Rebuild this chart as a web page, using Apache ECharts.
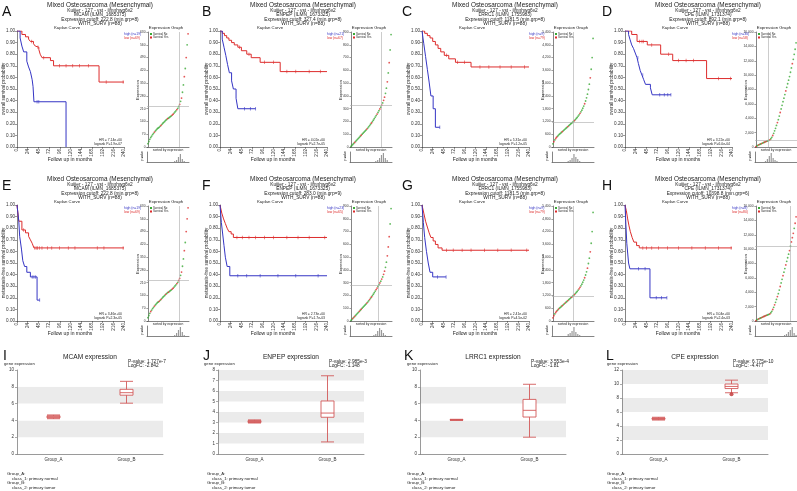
<!DOCTYPE html>
<html><head><meta charset="utf-8">
<script src="https://cdn.jsdelivr.net/npm/echarts@6/dist/echarts.min.js"></script>
<style>html,body{margin:0;padding:0;background:#fff}#c{width:797px;height:491px}</style>
</head><body><div id="c"></div>
<script>
// ---------- DATA ----------
const panelLetters = ['A','B','C','D','E','F','G','H'];
const genes = ['MCAM','ENPEP','LRRC1','CPE'];
const probes = ['ILMN_1685375','ILMN_1673325','ILMN_1755983','ILMN_1731374'];
const cutoffs = [222.8, 327.4, 1181.5, 892.1, 222.8, 283.0, 1181.5, 10398.8];
const minGrp = [8, 8, 8, 8, 8, 9, 8, 6];
const nHigh = [19, 21, 9, 30, 19, 23, 9, 8];
const nLow = [69, 67, 79, 58, 69, 65, 79, 80];
const hrTexts = ['HR = 7.14e+00','HR = 4.02e+00','HR = 5.31e+00','HR = 3.22e+00','HR = 3.46e+00','HR = 2.73e+00','HR = 2.41e+00','HR = 3.04e+00'];
const pTexts = ['logrank P=1.9e-07','logrank P=2.7e-05','logrank P=1.2e-05','logrank P=6.0e-04','logrank P=2.3e-05','logrank P=1.7e-03','logrank P=4.5e-02','logrank P=2.4e-03'];
const monthTicks = [0, 240, 24];
const survTicks = [0, 1, 0.1];

const kmHighA = [[0,1],[7,0.94],[11,0.87],[15,0.82],[22,0.74],[26,0.69],[30,0.65],[34,0.58],[36,0.52],[38,0.39],[110,0]];
const kmLowA  = [[0,1],[11,0.97],[19,0.95],[26,0.93],[30,0.91],[37,0.89],[41,0.87],[45,0.86],[49,0.84],[52,0.80],[56,0.77],[75,0.745],[82,0.70],[184,0.56],[240,0.56]];
const cenHighA = [[45,0.39],[49,0.39]];
const cenLowA  = [[33,0.91],[47,0.86],[60,0.77],[95,0.70],[110,0.70],[125,0.70],[140,0.70],[160,0.70],[200,0.56],[238,0.56]];

const kmHighB = [[0,1],[5,0.93],[9,0.86],[13,0.79],[17,0.71],[21,0.64],[26,0.57],[30,0.5],[36,0.42],[40,0.33],[80,0.33]];
const kmLowB  = [[0,1],[5,0.98],[10,0.96],[15,0.94],[20,0.92],[26,0.90],[32,0.88],[40,0.86],[48,0.83],[60,0.80],[70,0.77],[90,0.73],[135,0.65],[240,0.65]];
const cenHighB = [[55,0.33],[68,0.33],[80,0.33]];
const cenLowB  = [[44,0.86],[65,0.80],[100,0.73],[120,0.73],[150,0.65],[170,0.65],[200,0.65],[225,0.65]];

const kmHighC = [[0,1],[4,0.89],[8,0.78],[12,0.67],[16,0.56],[20,0.44],[25,0.33],[30,0.17],[40,0.17]];
const kmLowC  = [[0,1],[6,0.98],[12,0.96],[18,0.94],[24,0.91],[30,0.88],[36,0.85],[42,0.82],[50,0.79],[60,0.76],[75,0.73],[110,0.69],[240,0.69]];
const cenHighC = [[40,0.17]];
const cenLowC  = [[55,0.79],[80,0.73],[95,0.73],[130,0.69],[150,0.69],[175,0.69],[200,0.69],[230,0.69]];

const kmHighD = [[0,1],[8,0.97],[11,0.93],[15,0.88],[19,0.85],[23,0.81],[27,0.77],[30,0.72],[34,0.66],[38,0.62],[42,0.58],[46,0.54],[57,0.51],[61,0.45],[103,0.45]];
const kmLowD  = [[0,1],[15,0.97],[27,0.91],[50,0.88],[80,0.80],[107,0.745],[183,0.59],[240,0.59]];
const cenHighD = [[29,0.77],[40,0.62],[78,0.45],[88,0.45],[96,0.45],[103,0.45]];
const cenLowD  = [[33,0.91],[38,0.91],[41,0.91],[60,0.88],[98,0.80],[120,0.745],[137,0.745],[154,0.745],[210,0.59],[237,0.59]];

const kmHighE = [[0,1],[4,0.86],[6,0.73],[10,0.62],[13,0.52],[17,0.47],[22,0.42],[30,0.38],[45,0.18],[51,0.18]];
const kmLowE  = [[0,1],[4,0.86],[11,0.785],[19,0.76],[26,0.73],[30,0.70],[34,0.67],[38,0.63],[240,0.63]];
const cenHighE = [[34,0.38],[38,0.38],[42,0.38],[51,0.18]];
const cenLowE  = [[15,0.785],[40,0.63],[43,0.63],[46,0.63],[50,0.63],[56,0.63],[68,0.63],[78,0.63],[95,0.63],[115,0.63],[130,0.63],[180,0.63],[195,0.63],[238,0.63]];

const kmHighF = [[0,1],[3,0.85],[6,0.75],[9,0.65],[12,0.55],[16,0.47],[22,0.39],[240,0.39]];
const kmLowF  = [[0,1],[4,0.93],[8,0.88],[12,0.84],[16,0.80],[20,0.77],[25,0.75],[30,0.72],[240,0.72]];
const cenHighF = [[40,0.39],[60,0.39],[90,0.39],[130,0.39],[170,0.39],[220,0.39]];
const cenLowF  = [[38,0.72],[50,0.72],[65,0.72],[80,0.72],[100,0.72],[120,0.72],[150,0.72],[175,0.72],[200,0.72],[235,0.72]];

const kmHighG = [[0,1],[3,0.85],[6,0.72],[10,0.60],[14,0.50],[18,0.42],[24,0.38],[54,0.38]];
const kmLowG  = [[0,1],[4,0.93],[8,0.86],[12,0.81],[16,0.76],[20,0.72],[25,0.69],[30,0.66],[36,0.63],[45,0.61],[240,0.61]];
const cenHighG = [[35,0.38],[54,0.38]];
const cenLowG  = [[55,0.61],[70,0.61],[90,0.61],[110,0.61],[140,0.61],[170,0.61],[200,0.61],[235,0.61]];

const kmHighH = [[0,1],[2,0.83],[4,0.67],[8,0.5],[11,0.45],[56,0.2],[94,0.2]];
const kmLowH  = [[0,1],[3,0.95],[6,0.88],[9,0.82],[12,0.77],[16,0.72],[20,0.68],[26,0.65],[32,0.63],[240,0.63]];
const cenHighH = [[30,0.45],[45,0.45],[70,0.2],[82,0.2],[94,0.2]];
const cenLowH  = [[40,0.63],[48,0.63],[60,0.63],[75,0.63],[95,0.63],[120,0.63],[150,0.63],[180,0.63],[210,0.63],[238,0.63]];

// sorted expression values (patients ordered by expression)
const exprMCAM  = [18,30,42,52,60,68,75,82,88,94,100,104,108,113,118,124,130,135,140,146,150,155,158,162,166,170,175,180,186,192,198,205,212,222,234,250,268,300,340,385,430,490,560,620];
const exprENPEP = [5,12,20,28,36,44,52,60,68,76,84,92,100,108,116,124,132,140,148,158,168,178,188,198,210,222,234,246,258,270,284,298,312,328,345,365,390,420,460,510,580,660,760,880];
const exprLRRC1 = [150,250,330,400,460,510,560,600,640,680,720,760,800,840,880,920,960,1000,1040,1080,1120,1160,1200,1240,1290,1340,1390,1450,1510,1580,1650,1730,1820,1920,2030,2160,2310,2480,2700,2950,3250,3650,4200,5100];
const exprCPE   = [60,150,230,300,360,420,480,540,600,660,720,780,830,880,930,1000,1150,1350,1600,1900,2250,2600,3000,3400,3800,4300,4800,5300,5800,6300,6800,7300,7800,8300,8800,9300,9800,10400,11000,11600,12200,12900,13600,14500];
const exprAxisMax = [630, 900, 5400, 16000];
const exprAxisStep = [70, 100, 600, 2000];

const evA = [0,0,0,0,0,0,0,1,0,0,0,0,0,0,1,0,0,0,0,0,0,1,0,0,0,0,1,1,0,0,0,1,0,0,1,0,1,0,0,1,0,1,0,1];
const evB = [0,0,0,0,1,0,0,0,0,0,0,1,0,0,0,0,0,1,0,0,0,0,1,0,0,0,0,0,1,0,0,1,0,1,0,1,1,0,0,1,0,1,0,0];
const evC = [0,1,0,1,1,0,0,0,0,0,1,0,0,0,0,0,1,0,0,0,0,0,0,1,0,0,0,0,0,1,0,0,0,0,1,0,0,0,0,0,1,0,0,0];
const evD = [1,0,0,1,0,0,1,0,0,1,0,1,0,0,0,1,0,0,1,0,0,0,0,1,0,0,1,0,0,0,0,0,1,0,0,0,0,0,0,1,0,0,0,0];
const evE = [0,0,0,1,0,0,0,1,0,0,0,0,1,0,1,0,0,0,0,1,0,0,1,0,0,0,1,1,0,0,0,1,0,1,1,0,1,0,0,1,0,1,1,1];
const evF = [0,0,1,0,1,0,0,0,0,1,0,1,0,0,0,0,0,1,0,0,1,0,1,0,0,0,0,1,1,0,0,1,0,1,0,1,1,0,0,1,1,1,0,0];
const evG = [1,1,0,1,1,0,1,0,0,0,1,0,0,1,0,0,1,0,0,0,1,0,0,1,0,0,0,0,1,1,0,0,0,0,1,0,0,1,0,0,1,0,0,0];
const evH = [1,0,0,1,0,0,1,0,1,1,0,1,0,0,0,1,0,0,1,0,1,0,0,1,0,0,1,0,0,1,0,0,1,0,0,0,1,0,1,1,1,0,1,1];

const histA = [0,0,0,0,0,0,0,0,0,0,0,0,0,0,1,2,5,8,3,1,0,0];
const histB = [0,0,0,0,0,0,0,0,0,0,0,0,0,1,2,4,7,9,4,2,0,0];
const histC = [0,0,0,0,0,0,0,0,1,2,4,8,5,3,1,0,0,0,0,0,0,0];
const histD = [0,0,0,0,0,1,3,6,9,4,2,1,0,0,0,0,0,0,0,0,0,0];
const histE = [0,0,0,0,0,0,0,0,0,0,0,0,0,0,1,3,6,9,4,1,0,0];
const histF = [0,0,0,0,0,0,0,0,0,0,0,0,1,2,5,8,6,3,1,0,0,0];
const histG = [0,0,0,0,0,0,0,0,2,3,5,9,4,2,1,0,0,0,0,0,0,0];
const histH = [0,0,0,0,0,0,0,0,0,0,0,0,0,0,0,1,2,4,6,9,3,1];

// boxplots (min, Q1, median, Q3, max)
const boxGroups = ['Group_A','Group_B'];
const boxA_I = [4.2,4.3,4.42,4.55,4.65];  const boxB_I = [6.05,7.0,7.3,7.7,8.65];
const boxA_J = [2.95,3.0,3.1,3.18,3.25]; const boxB_J = [1.15,3.5,3.9,5.05,7.45];
const boxA_K = [4.0,4.03,4.07,4.1,4.13];  const boxB_K = [2.0,4.4,5.2,6.5,8.3];
const boxA_L = [4.85,4.95,5.05,5.15,5.25]; const boxB_L = [8.75,9.35,9.65,10.0,10.55];
const outlierL = [[1, 8.55]];
const boxYMax = [10, 8, 10, 12];
const boxYStep = [2, 1, 2, 2];
const pValues = ['P-value: 1.727e-7','P-value: 2.985e-3','P-value: 3.553e-4','P-value: 6.775e-10'];
const logFCs = ['LogFC: -2.842','LogFC: -1.148','LogFC: -1.81','LogFC: -4.477'];

// ---------- BUILD ----------
const kmHigh = [kmHighA,kmHighB,kmHighC,kmHighD,kmHighE,kmHighF,kmHighG,kmHighH];
const kmLow = [kmLowA,kmLowB,kmLowC,kmLowD,kmLowE,kmLowF,kmLowG,kmLowH];
const cenHigh = [cenHighA,cenHighB,cenHighC,cenHighD,cenHighE,cenHighF,cenHighG,cenHighH];
const cenLow = [cenLowA,cenLowB,cenLowC,cenLowD,cenLowE,cenLowF,cenLowG,cenLowH];
const exprs = [exprMCAM, exprENPEP, exprLRRC1, exprCPE];
const events = [evA,evB,evC,evD,evE,evF,evG,evH];
const hists = [histA,histB,histC,histD,histE,histF,histG,histH];
const boxAs = [boxA_I, boxA_J, boxA_K, boxA_L];
const boxBs = [boxB_I, boxB_J, boxB_K, boxB_L];

const FONT = '"Liberation Sans", Arial, Helvetica, sans-serif';
const RED = '#dd2c2c', BLUE = '#3535c4', GREEN = '#39a935', BOXRED = '#d25a5a';
const colOX = [0, 203, 405, 608];
const letterX = [2, 202, 402, 602];
const boxLeft = [17, 218, 420, 622];
const boxOX = [0, 200, 400, 600];

const grids = [], xAxes = [], yAxes = [], series = [], graphics = [];
function T(x, y, text, size, o) {
  o = o || {};
  graphics.push({type:'text', x:x, y:y, rotation:o.rot || 0, silent:true, z:100,
    style:{text:text, fill:o.color || '#222', font:(o.bold ? 'bold ' : '') + size + 'px ' + FONT,
      textAlign:o.align || 'left', textVerticalAlign:o.va || 'middle'}});
}
const axLine = {lineStyle:{color:'#333', width:0.6}};
const axTick = {length:2, lineStyle:{color:'#333', width:0.5}};

for (let p = 0; p < 8; p++) {
  const c = p % 4, r = Math.floor(p / 4), ox = colOX[c], oy = r * 174;
  T(letterX[c], oy + 12, panelLetters[p], 14, {color:'#111'});
  T(ox + 100, oy + 5, 'Mixed Osteosarcoma (Mesenchymal)', 6.4, {align:'center'});
  T(ox + 100, oy + 10.5, 'Kuijjer - 127 - vst - ilmnhwg6v2', 4.8, {align:'center'});
  T(ox + 100, oy + 15, genes[c] + ' (' + probes[c] + ')', 4.8, {align:'center'});
  T(ox + 100, oy + 19.5, 'Expression cutoff: ' + cutoffs[p].toFixed(1) + ' (min.grp=' + minGrp[p] + ')', 4.8, {align:'center'});
  T(ox + 100, oy + 24, 'WITH_SURV (n=88)', 4.8, {align:'center'});
  T(ox + 67, oy + 27.5, 'Kaplan Curve', 4.3, {align:'center'});
  T(ox + 166, oy + 28, 'Expression Graph', 4.3, {align:'center'});
  T(ox + 3.5, oy + 89, r === 0 ? 'overall survival probability' : 'metastasis-free survival probability', 4.6, {align:'center', rot:Math.PI / 2});
  T(ox + 70, oy + 160, 'Follow up in months', 5, {align:'center'});
  T(ox + 124, oy + 34, 'high (n=' + nHigh[p] + ')', 3.4, {color:BLUE});
  T(ox + 124, oy + 38, 'low (n=' + nLow[p] + ')', 3.4, {color:RED});
  T(ox + 122, oy + 140, hrTexts[p], 3.4, {align:'right'});
  T(ox + 122, oy + 144, pTexts[p], 3.4, {align:'right'});
  T(ox + 138, oy + 90, 'Expression', 4, {align:'center', rot:Math.PI / 2});
  T(ox + 168, oy + 150.5, 'sorted by expression', 3.3, {align:'center'});
  T(ox + 142, oy + 156, 'p-value', 3, {align:'center', rot:Math.PI / 2});
  graphics.push({type:'rect', shape:{x:ox + 150, y:oy + 33, width:2, height:2}, style:{fill:GREEN}, silent:true});
  graphics.push({type:'rect', shape:{x:ox + 150, y:oy + 36.5, width:2, height:2}, style:{fill:RED}, silent:true});
  T(ox + 153, oy + 34, 'Survival No', 2.8);
  T(ox + 153, oy + 37.5, 'Survival Yes', 2.8);

  const g = grids.length;
  grids.push({left:ox + 17, top:oy + 31, width:107, height:116});
  xAxes.push({gridIndex:g, type:'value', min:monthTicks[0], max:monthTicks[1], interval:monthTicks[2],
    axisLine:axLine, axisTick:axTick, splitLine:{show:false},
    axisLabel:{rotate:90, fontSize:4.6, margin:2, color:'#333', fontFamily:FONT}});
  yAxes.push({gridIndex:g, type:'value', min:survTicks[0], max:survTicks[1], interval:survTicks[2],
    axisLine:{show:true, lineStyle:{color:'#333', width:0.6}}, axisTick:{show:true, length:2, lineStyle:{color:'#333', width:0.5}}, splitLine:{show:false},
    axisLabel:{fontSize:4.6, margin:2, color:'#333', fontFamily:FONT, formatter:v => v.toFixed(2)}});
  series.push({type:'line', xAxisIndex:g, yAxisIndex:g, step:'end', data:kmLow[p], symbol:'none', lineStyle:{color:RED, width:1}, silent:true});
  series.push({type:'line', xAxisIndex:g, yAxisIndex:g, step:'end', data:kmHigh[p], symbol:'none', lineStyle:{color:BLUE, width:1}, silent:true});
  series.push({type:'scatter', xAxisIndex:g, yAxisIndex:g, data:cenLow[p], symbol:'rect', symbolSize:[0.7, 3.5], itemStyle:{color:RED}, silent:true});
  series.push({type:'scatter', xAxisIndex:g, yAxisIndex:g, data:cenHigh[p], symbol:'rect', symbolSize:[0.7, 3.5], itemStyle:{color:BLUE}, silent:true});

  const e = grids.length;
  const ex = exprs[c], ev = events[p];
  grids.push({left:ox + 147, top:oy + 32, width:42, height:115});
  xAxes.push({gridIndex:e, type:'value', min:-1, max:ex.length, axisLabel:{show:false}, axisTick:{show:false}, axisLine:axLine, splitLine:{show:false}});
  yAxes.push({gridIndex:e, type:'value', min:0, max:exprAxisMax[c], interval:exprAxisStep[c],
    axisLine:{show:true, lineStyle:{color:'#333', width:0.6}}, axisTick:{show:true, length:1.5, lineStyle:{width:0.5}}, splitLine:{show:false},
    axisLabel:{fontSize:3.3, margin:1.5, color:'#333', fontFamily:FONT}});
  const nBelow = ex.filter(v => v < cutoffs[p]).length;
  series.push({type:'scatter', xAxisIndex:e, yAxisIndex:e, symbolSize:1.8, itemStyle:{color:GREEN}, silent:true,
    data:ex.map((v, i) => [i, v, ev[i] || 0]).filter(d => d[2] === 0).map(d => [d[0], d[1]]),
    markLine:{silent:true, symbol:'none', label:{show:false}, lineStyle:{color:'#aaa', width:0.6, type:'solid'},
      data:[{yAxis:cutoffs[p]}, {xAxis:nBelow - 0.5}]}});
  series.push({type:'scatter', xAxisIndex:e, yAxisIndex:e, symbolSize:1.8, itemStyle:{color:RED}, silent:true,
    data:ex.map((v, i) => [i, v, ev[i] || 0]).filter(d => d[2] === 1).map(d => [d[0], d[1]])});

  const h = grids.length;
  grids.push({left:ox + 147, top:oy + 152, width:42, height:10});
  xAxes.push({gridIndex:h, type:'category', data:hists[p].map((v, i) => i), axisLabel:{show:false}, axisTick:{show:false}, axisLine:axLine});
  yAxes.push({gridIndex:h, type:'value', min:0, max:10, axisLabel:{show:false}, axisTick:{show:false}, splitLine:{show:false}, axisLine:{show:true, lineStyle:{color:'#333', width:0.6}}});
  series.push({type:'bar', xAxisIndex:h, yAxisIndex:h, data:hists[p], barWidth:1.2, itemStyle:{color:'#999'}, silent:true});
}

const boxLetters = ['I','J','K','L'];
for (let c = 0; c < 4; c++) {
  const ox = boxOX[c];
  T(ox + 3 + (c === 3 ? 3 : c === 2 ? 1 : 0), 356, boxLetters[c], 14, {color:'#111'});
  T(boxLeft[c] + 73, 357, genes[c] + ' expression', 6.6, {align:'center'});
  T(boxLeft[c] + 111, 362, pValues[c], 4.8);
  T(boxLeft[c] + 111, 366, logFCs[c], 4.8);
  T(ox + 4 + (c > 1 ? 3 : 0), 364, 'gene expression', 4.2);
  T(ox + 7, 474, 'Group_A:', 4.3);
  T(ox + 12, 478.5, 'class_1: primary normal', 4.3);
  T(ox + 7, 483, 'Group_B:', 4.3);
  T(ox + 12, 487.5, 'class_2: primary tumor', 4.3);
  const b = grids.length;
  grids.push({left:boxLeft[c], top:370, width:146, height:84});
  xAxes.push({gridIndex:b, type:'category', data:boxGroups, axisLine:{lineStyle:{color:'#555', width:0.6}},
    axisTick:{length:2, lineStyle:{color:'#555', width:0.5}}, axisLabel:{fontSize:4.5, margin:3, color:'#333', fontFamily:FONT}});
  yAxes.push({gridIndex:b, type:'value', min:0, max:boxYMax[c], interval:boxYStep[c],
    axisLine:{show:true, lineStyle:{color:'#555', width:0.6}}, axisTick:{show:true, length:2, lineStyle:{color:'#555', width:0.5}},
    splitLine:{show:false}, splitArea:{show:true, areaStyle:{color:['#ffffff', '#ebebeb']}},
    axisLabel:{fontSize:4.5, margin:3, color:'#333', fontFamily:FONT}});
  series.push({type:'boxplot', xAxisIndex:b, yAxisIndex:b, boxWidth:[13, 13], silent:true,
    itemStyle:{color:'#fff', borderColor:BOXRED, borderWidth:0.9},
    data:[{value:boxAs[c], itemStyle:{color:'#eeb0b0', borderColor:BOXRED}}, {value:boxBs[c]}]});
  if (c === 3) {
    series.push({type:'scatter', xAxisIndex:b, yAxisIndex:b, data:outlierL, symbolSize:4, itemStyle:{color:'#c03030'}, silent:true});
  }
}

const chart = echarts.init(document.getElementById('c'), null, {renderer:'canvas'});
chart.setOption({animation:false, backgroundColor:'#fff', grid:grids, xAxis:xAxes, yAxis:yAxes, series:series, graphic:graphics});
</script></body></html>
